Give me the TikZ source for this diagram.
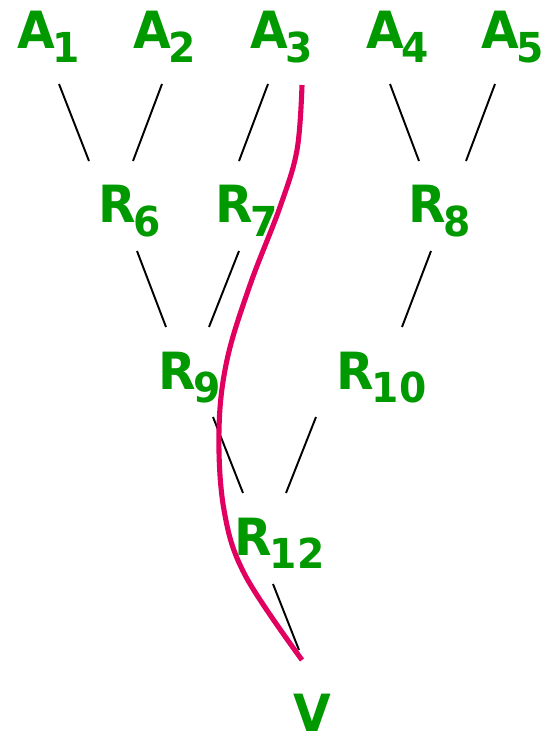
\documentclass[tikz,border=0pt]{standalone}
\usepackage{fontspec}
\setmainfont{DejaVu Sans}[FakeStretch=0.95]
\usepackage{tikz}
\usetikzlibrary{positioning}
\usepackage{xcolor}

\definecolor{treegreen}{RGB}{0,153,0}
\definecolor{pathred}{RGB}{225,0,95}

% label with a lowered subscript
\newcommand{\tlabel}[2]{#1\kern-1.2pt\raisebox{-7.9pt}{\fontsize{23.5}{24}\selectfont #2}}

\tikzset{
  lbl/.style={anchor=base west, inner sep=0pt, text=treegreen,
              font=\fontsize{29.2}{30}\selectfont\bfseries},
  edge/.style={line width=1.1pt, black},
  route/.style={line width=2.9pt, pathred}
}

\begin{document}
\begin{tikzpicture}[x=0.02cm, y=-0.02cm]
  \useasboundingbox (0,0) rectangle (543,736);

  % leaves
  \node[lbl] (a1) at (17,49)  {\tlabel{A}{1}};
  \node[lbl] (a2) at (133,49) {\tlabel{A}{2}};
  \node[lbl] (a3) at (250,49) {\tlabel{A}{3}};
  \node[lbl] (a4) at (366,49) {\tlabel{A}{4}};
  \node[lbl] (a5) at (481,49) {\tlabel{A}{5}};

  % inner routers
  \node[lbl] (r6)  at (98,223)  {\tlabel{R}{6}};
  \node[lbl] (r7)  at (215,223) {\tlabel{R}{7}};
  \node[lbl] (r8)  at (408,223) {\tlabel{R}{8}};
  \node[lbl] (r9)  at (158,389) {\tlabel{R}{9}};
  \node[lbl] (r10) at (336,389) {\tlabel{R}{10}};
  \node[lbl] (r12) at (234,555) {\tlabel{R}{12}};

  % root
  \node[lbl] (v) at (293,731) {V};

  % tree edges
  \draw[edge] ([shift={(42,35)}]a1.base west) -- ([shift={(-9,-62)}]r6.base west);
  \draw[edge] ([shift={(29,35)}]a2.base west) -- ([shift={(35,-62)}]r6.base west);
  \draw[edge] ([shift={(18,35)}]a3.base west) -- ([shift={(24,-62)}]r7.base west);
  \draw[edge] ([shift={(24,35)}]a4.base west) -- ([shift={(11,-62)}]r8.base west);
  \draw[edge] ([shift={(14,35)}]a5.base west) -- ([shift={(58,-62)}]r8.base west);

  \draw[edge] ([shift={(39,28)}]r6.base west) -- ([shift={(8,-62)}]r9.base west);
  \draw[edge] ([shift={(24,28)}]r7.base west) -- ([shift={(51,-62)}]r9.base west);
  \draw[edge] ([shift={(23,28)}]r8.base west) -- ([shift={(66,-62)}]r10.base west);

  \draw[edge] ([shift={(55,28)}]r9.base west) -- ([shift={(9,-62)}]r12.base west);
  \draw[edge] ([shift={(-20,28)}]r10.base west) -- ([shift={(52,-62)}]r12.base west);

  \draw[edge] ([shift={(39,29)}]r12.base west) -- ([shift={(6,-81)}]v.base west);

  % path from A3 down to V
  \draw[route] plot[smooth, tension=0.6] coordinates
    {(302,85) (297,150) (280,207) (250,285) (227,360) (219,430)
     (224,510) (245,575) (302,660)};
\end{tikzpicture}
\end{document}
